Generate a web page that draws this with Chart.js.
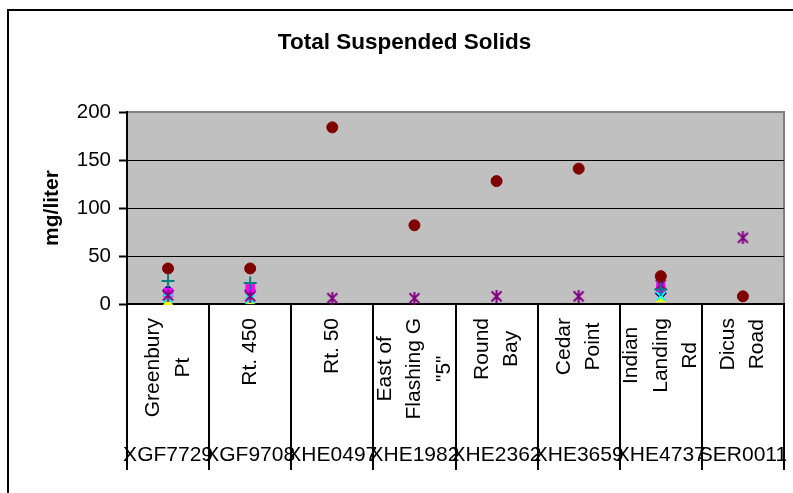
<!DOCTYPE html>
<html>
<head>
<meta charset="utf-8">
<script src="https://cdn.jsdelivr.net/npm/chart.js@4.4.1/dist/chart.umd.min.js"></script>
<style>
html, body { margin: 0; padding: 0; background: #fff; overflow: hidden; }
canvas { display: block; }
</style>
</head>
<body>
<canvas id="chart" width="793" height="493"></canvas>
<script>
const FONT = "'Liberation Sans', Arial, sans-serif";

const STATION_CODES = ['XGF7729', 'XGF9708', 'XHE0497', 'XHE1982', 'XHE2362', 'XHE3659', 'XHE4737', 'SER0011'];
const STATION_NAMES = [
    ['Greenbury', 'Pt'],
    ['Rt. 450'],
    ['Rt. 50'],
    ['East of', 'Flashing G', '"5"'],
    ['Round', 'Bay'],
    ['Cedar', 'Point'],
    ['Indian', 'Landing', 'Rd'],
    ['Dicus', 'Road']
];

// one list per sampling series (Excel marker order)
const SERIES_1 = [14, 14, null, null, null, null, 11, null];
const SERIES_2 = [12, 16, null, null, null, null, 17, null];
const SERIES_3 = [2, 3, null, null, null, null, 5, null];
const SERIES_4 = [6, 5, null, null, null, null, 8, null];
const SERIES_5 = [9, 8, 6, 6, 8, 8, 20, 69];
const SERIES_6 = [37, 37, 184, 82, 128, 141, 29, 8];
const SERIES_7 = [24, 22, null, null, null, null, 15, null];

const Y_MIN = 0;
const Y_MAX = 200;
const Y_STEP = 50;

function asterisk(color) {
    const c = document.createElement('canvas');
    c.width = 13; c.height = 13;
    const g = c.getContext('2d');
    g.strokeStyle = color;
    g.lineWidth = 2;
    g.beginPath();
    g.moveTo(1.5, 1.5); g.lineTo(11.5, 11.5);
    g.moveTo(11.5, 1.5); g.lineTo(1.5, 11.5);
    g.moveTo(6.5, 0); g.lineTo(6.5, 13);
    g.stroke();
    return c;
}

const markers = [
    { data: SERIES_1, style: 'rectRot', color: '#000080', r: 5.5 },
    { data: SERIES_2, style: 'rect', color: '#FF00FF', r: 6 },
    { data: SERIES_3, style: 'triangle', color: '#FFFF00', r: 5 },
    { data: SERIES_4, style: 'crossRot', color: '#00FFFF', r: 6, line: 2 },
    { data: SERIES_5, style: asterisk('#800080'), color: '#800080', r: 6 },
    { data: SERIES_6, style: 'circle', color: '#800000', r: 5.5 },
    { data: SERIES_7, style: 'cross', color: '#008080', r: 6.5, line: 2 }
];

const datasets = markers.map((m, i) => ({
    label: 'Series ' + (i + 1),
    data: m.data,
    showLine: false,
    pointStyle: m.style,
    pointRadius: m.r,
    backgroundColor: m.color,
    borderColor: m.color,
    pointBorderWidth: m.line || 1,
    order: markers.length - i,   // later series on top, like Excel
    clip: false
}));

const frame = {
    id: 'frame',
    beforeDraw(chart) {
        const { ctx, chartArea: a } = chart;
        ctx.save();
        ctx.fillStyle = '#fff';
        ctx.fillRect(0, 0, chart.width, chart.height);
        ctx.fillStyle = '#C0C0C0';
        ctx.fillRect(a.left, a.top, a.right - a.left, a.bottom - a.top);
        ctx.strokeStyle = '#808080';
        ctx.lineWidth = 2;
        ctx.strokeRect(a.left, a.top, a.right - a.left, a.bottom - a.top);
        // outer chart border (runs off the right and bottom)
        ctx.strokeStyle = '#000';
        ctx.strokeRect(8, 10, 820, 520);
        ctx.restore();
    },
    afterDraw(chart) {
        const { ctx, chartArea: a } = chart;
        const xs = chart.scales.x;
        ctx.save();
        ctx.fillStyle = '#000';
        ctx.font = '21px ' + FONT;
        STATION_NAMES.forEach((lines, i) => {
            const px = xs.getPixelForValue(i);
            const w = Math.max(...lines.map(t => ctx.measureText(t).width));
            ctx.save();
            ctx.translate(px, a.bottom + 14 + w / 2);
            ctx.rotate(-Math.PI / 2);
            ctx.textAlign = 'center';
            ctx.textBaseline = 'middle';
            lines.forEach((t, j) => ctx.fillText(t, 0, (j - (lines.length - 1) / 2) * 29.5));
            ctx.restore();
            ctx.textAlign = 'center';
            ctx.textBaseline = 'alphabetic';
            ctx.fillText(STATION_CODES[i], px, a.bottom + 157);
        });
        ctx.restore();
    }
};

new Chart(document.getElementById('chart'), {
    type: 'line',
    data: { labels: STATION_CODES, datasets: datasets },
    options: {
        responsive: false,
        animation: false,
        layout: { padding: { left: 25, right: 9, top: 0, bottom: 23 } },
        plugins: {
            legend: { display: false },
            tooltip: { enabled: false },
            title: {
                display: true,
                text: 'Total Suspended Solids',
                color: '#000',
                font: { family: FONT, size: 22.5, weight: 'bold' },
                padding: { top: 29, bottom: 56 }
            }
        },
        scales: {
            x: {
                type: 'category',
                offset: true,
                grid: { offset: true, drawOnChartArea: false, drawTicks: true, tickLength: 166, color: '#000', lineWidth: 2 },
                border: { color: '#000', width: 2 },
                ticks: { display: false }
            },
            y: {
                min: Y_MIN,
                max: Y_MAX,
                ticks: { stepSize: Y_STEP, color: '#000', font: { family: FONT, size: 20.5 }, padding: 8 },
                grid: {
                    color: (c) => (c.tick && c.tick.value === Y_MAX) ? 'rgba(0,0,0,0)' : '#000',
                    lineWidth: 1,
                    tickColor: '#000',
                    tickLength: 8,
                    tickWidth: 2
                },
                border: { color: '#000', width: 2 },
                title: {
                    display: true,
                    text: 'mg/liter',
                    color: '#000',
                    font: { family: FONT, size: 21, weight: 'bold' },
                    padding: { top: 15, bottom: 0 }
                },
                afterFit: (s) => { s.width = 102; }
            }
        }
    },
    plugins: [frame]
});
</script>
</body>
</html>
